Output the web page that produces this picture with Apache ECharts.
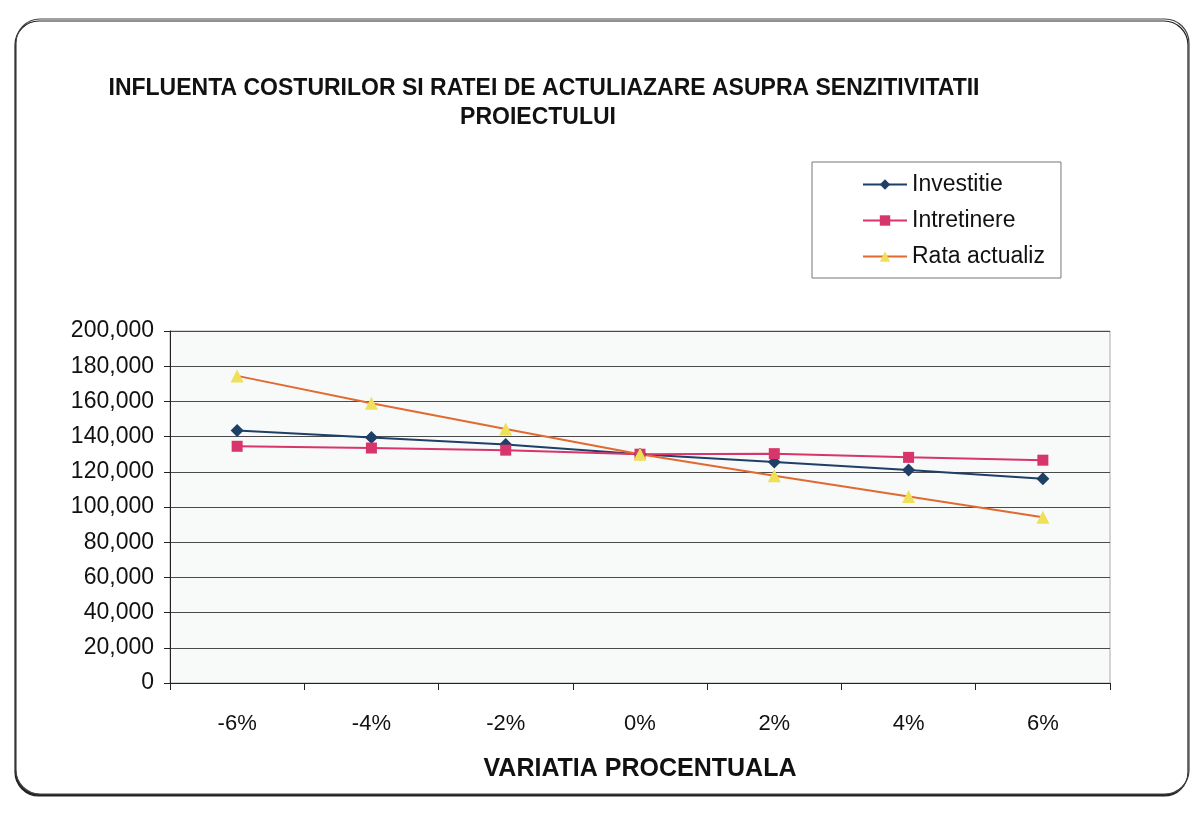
<!DOCTYPE html>
<html>
<head>
<meta charset="utf-8">
<title>Sensitivity chart</title>
<script src="https://cdn.jsdelivr.net/npm/echarts@6/dist/echarts.min.js"></script>
<style>
	html, body { margin: 0; padding: 0; background: #ffffff; }
	#chart { width: 1192px; height: 822px; }
</style>
</head>
<body>
<div id="chart"></div>
<script>
// categories on the x axis
var categories = ["-6%", "-4%", "-2%", "0%", "2%", "4%", "6%"];

// series values
var investitie = [143500, 139500, 135500, 130000, 125500, 121000, 116000];
var intretinere = [134500, 133500, 132300, 130000, 130300, 128200, 126600];
var rataActualiz = [174500, 159000, 144300, 130000, 117800, 106000, 94200];

var seriesNames = ["Investitie", "Intretinere", "Rata actualiz"];

// y axis range
var yMin = 0;
var yMax = 200000;
var yStep = 20000;

var titleLines = [
	"INFLUENTA COSTURILOR SI RATEI DE ACTULIAZARE ASUPRA SENZITIVITATII",
	"PROIECTULUI"
];
var xAxisTitle = "VARIATIA PROCENTUALA";

var myChart = echarts.init(document.getElementById("chart"));

function fmt(v){
	return String(v).replace(/\B(?=(\d{3})+(?!\d))/g, ",");
}

var font = "Liberation Sans, Arial, sans-serif";

var option = {
	backgroundColor: "#ffffff",
	animation: false,
	textStyle: { fontFamily: font },
	graphic: [{
		// chart area frame
		type: "rect",
		z: -10,
		shape: { x: 16, y: 19, width: 1173, height: 775, r: 24 },
		style: {
			fill: "#ffffff",
			stroke: "#444",
			lineWidth: 1.2,
			shadowColor: "#222",
			shadowOffsetY: 2,
			shadowOffsetX: -1
		}
	}],
	title: [{
		text: titleLines[0],
		left: 539,
		top: 72,
		textAlign: "center",
		textStyle: { fontSize: 23, fontWeight: "bold", color: "#111", fontFamily: font }
	}, {
		text: titleLines[1],
		left: 533,
		top: 101,
		textAlign: "center",
		textStyle: { fontSize: 23, fontWeight: "bold", color: "#111", fontFamily: font }
	}],
	legend: {
		orient: "vertical",
		left: 812,
		top: 162,
		data: seriesNames,
		backgroundColor: "#ffffff",
		borderColor: "#777",
		borderWidth: 1,
		padding: [11, 16, 10, 50],
		itemGap: 13,
		itemWidth: 44,
		itemHeight: 13,
		textStyle: { fontSize: 23, color: "#111", fontFamily: font }
	},
	grid: {
		left: 170,
		right: 82,
		top: 331,
		bottom: 139,
		show: true,
		backgroundColor: "#f8f9f9",
		borderColor: "#aaa",
		borderWidth: 1
	},
	xAxis: {
		type: "category",
		data: categories,
		boundaryGap: true,
		name: xAxisTitle,
		nameLocation: "middle",
		nameGap: 74,
		nameTextStyle: { fontSize: 25, fontWeight: "bold", color: "#111", fontFamily: font },
		axisLine: { lineStyle: { color: "#222", width: 1 } },
		axisTick: { show: true, length: 7, lineStyle: { color: "#222" } },
		axisLabel: { fontSize: 22, color: "#111", margin: 30, fontFamily: font }
	},
	yAxis: {
		type: "value",
		min: yMin,
		max: yMax,
		interval: yStep,
		axisLine: { show: true, lineStyle: { color: "#222", width: 1 } },
		axisTick: { show: true, length: 6, lineStyle: { color: "#222" } },
		axisLabel: {
			fontSize: 23,
			color: "#111",
			margin: 16,
			fontFamily: font,
			formatter: function(v){ return fmt(v); }
		},
		splitLine: { show: true, lineStyle: { color: "#4a4a4a", width: 1 } }
	},
	series: [{
		name: seriesNames[0],
		type: "line",
		data: investitie,
		symbol: "diamond",
		symbolSize: 13,
		itemStyle: { color: "#1e3f66" },
		lineStyle: { color: "#1e3f66", width: 2 }
	}, {
		name: seriesNames[1],
		type: "line",
		data: intretinere,
		symbol: "rect",
		symbolSize: 11,
		itemStyle: { color: "#d8356a" },
		lineStyle: { color: "#d8356a", width: 2 }
	}, {
		name: seriesNames[2],
		type: "line",
		data: rataActualiz,
		symbol: "triangle",
		symbolSize: 13,
		itemStyle: { color: "#efe05a" },
		lineStyle: { color: "#e06a30", width: 2 }
	}]
};

myChart.setOption(option);
window.addEventListener("resize", function(){ myChart.resize(); });
</script>
</body>
</html>
